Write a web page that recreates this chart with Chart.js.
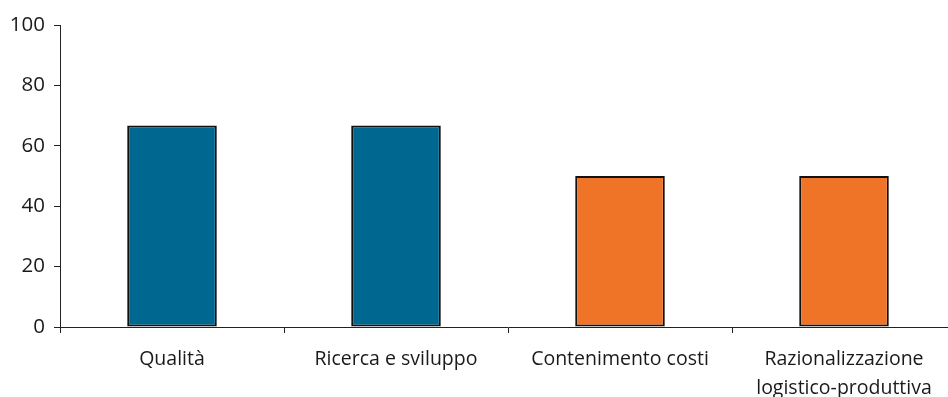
<!DOCTYPE html>
<html>
<head>
<meta charset="utf-8">
<script src="https://cdn.jsdelivr.net/npm/chart.js@4.4.0/dist/chart.umd.min.js"></script>
<style>
  html, body { margin: 0; padding: 0; background: #fff; overflow: hidden; }
  #wrap { width: 948px; height: 397px; overflow: hidden; }
</style>
</head>
<body>
<div id="wrap"><canvas id="graf" width="960" height="397"></canvas></div>
<script>
// dati
const categorie = ['Qualità', 'Ricerca e sviluppo', 'Contenimento costi', ['Razionalizzazione', 'logistico-produttiva']];
const valori = [66.7, 66.7, 50, 50];
const colori = ['#006790', '#006790', '#F07428', '#F07428'];
const tickY = [0, 20, 40, 60, 80, 100];

const ctx = document.getElementById('graf');
const graf = new Chart(ctx, {
    type: 'bar',
    data: {
        labels: categorie,
        datasets: [{
            data: valori,
            backgroundColor: colori,
            borderColor: '#111',
            borderWidth: 2,
            borderSkipped: false,
            categoryPercentage: 1,
            barPercentage: 0.4
        }]
    },
    options: {
        responsive: false,
        animation: false,
        layout: { padding: { top: 25, right: 4, left: 0, bottom: 0 } },
        plugins: { legend: { display: false }, tooltip: { enabled: false } },
        scales: {
            x: {
                offset: true,
                grid: { offset: true, drawOnChartArea: false, drawTicks: true, tickLength: 6, color: '#222' },
                border: { color: '#222', width: 1 },
                ticks: { color: '#1a1a1a', font: { family: 'Open Sans', size: 19.5, lineHeight: 1.5 }, padding: 12, maxRotation: 0, autoSkip: false },
                afterFit: function (s) { s.height = 70; }
            },
            y: {
                min: 0, max: 100,
                afterBuildTicks: function (s) { s.ticks = tickY.map(v => ({ value: v })); },
                grid: { drawOnChartArea: false, tickLength: 6, color: '#222' },
                border: { color: '#222', width: 1 },
                ticks: { color: '#1a1a1a', font: { family: 'Open Sans', size: 20.5 }, padding: 9 },
                afterFit: function (s) { s.width = 60; }
            }
        }
    }
});
</script>
</body>
</html>
